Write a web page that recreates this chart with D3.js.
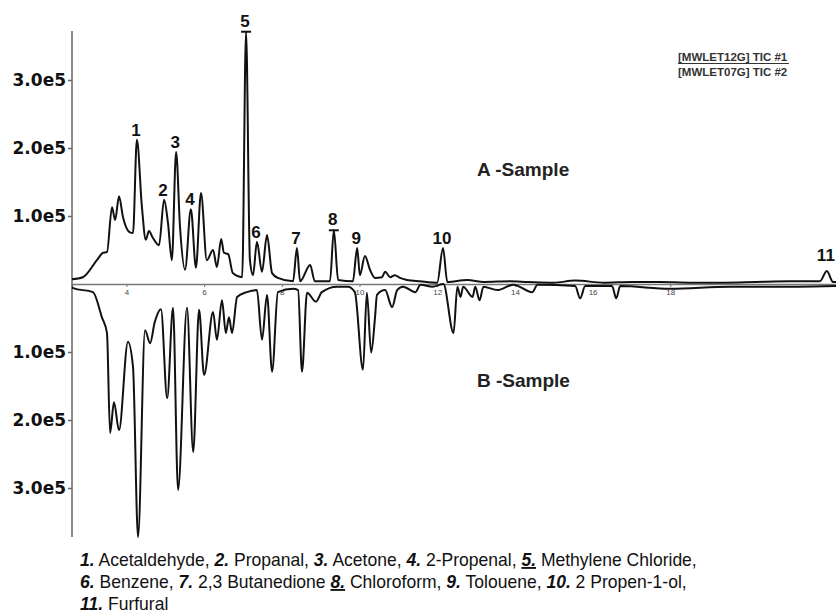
<!DOCTYPE html>
<html>
<head>
<meta charset="utf-8">
<script src="https://cdn.jsdelivr.net/npm/d3@7"></script>
<style>
  body { margin: 0; background: #fff; }
</style>
</head>
<body>
<div id="chart"></div>
<script>
// retention time (min) and abundance (x1e5) for the two TIC traces
var timeA = [2.60, 2.88, 3.24, 3.40, 3.50, 3.63, 3.71, 3.81, 3.91, 4.09, 4.17, 4.27, 4.40, 4.50, 4.58, 4.68, 4.84, 4.97, 5.07, 5.17,
  5.28, 5.38, 5.51, 5.66, 5.79, 5.92, 6.07, 6.23, 6.33, 6.44, 6.51, 6.62, 6.74, 6.98, 7.08, 7.18, 7.26, 7.36, 7.49, 7.62,
  7.75, 7.90, 8.29, 8.39, 8.47, 8.73, 8.85, 9.24, 9.34, 9.45, 9.83, 9.94, 10.01, 10.14, 10.27, 10.40, 10.58, 10.66, 10.79, 10.91,
  11.04, 11.22, 11.56, 12.00, 12.15, 12.26, 12.77, 13.20, 13.87, 14.34, 15.00, 15.55, 16.30, 17.00, 17.74, 18.50, 19.41, 20.20, 21.08, 21.85,
  22.03, 22.19, 22.30];
var sampleA = [0.07, 0.10, 0.35, 0.46, 0.47, 1.13, 0.94, 1.29, 0.99, 0.76, 0.75, 2.12, 1.13, 0.65, 0.78, 0.68, 0.57, 1.24, 0.90, 0.35,
  1.94, 0.84, 0.21, 1.10, 0.24, 1.34, 0.35, 0.50, 0.25, 0.66, 0.46, 0.44, 0.16, 0.10, 3.71, 0.35, 0.13, 0.62, 0.18, 0.72,
  0.16, 0.09, 0.04, 0.53, 0.04, 0.28, 0.04, 0.04, 0.79, 0.06, 0.04, 0.53, 0.13, 0.41, 0.21, 0.09, 0.10, 0.18, 0.10, 0.13,
  0.09, 0.06, 0.04, 0.02, 0.53, 0.03, 0.06, 0.03, 0.04, 0.03, 0.02, 0.05, 0.02, 0.03, 0.03, 0.02, 0.02, 0.03, 0.04, 0.04,
  0.19, 0.03, 0.03];

var timeB = [2.60, 2.63, 3.14, 3.37, 3.50, 3.58, 3.68, 3.81, 4.04, 4.17, 4.30, 4.48, 4.61, 4.73, 4.89, 5.05, 5.20, 5.33, 5.56, 5.72,
  5.87, 6.00, 6.23, 6.33, 6.46, 6.56, 6.64, 6.72, 6.85, 7.10, 7.36, 7.49, 7.62, 7.75, 7.90, 8.29, 8.42, 8.52, 8.65, 8.88,
  9.03, 9.42, 9.70, 9.88, 10.09, 10.19, 10.30, 10.40, 10.45, 10.66, 10.84, 10.97, 11.12, 11.44, 11.57, 11.88, 12.16, 12.42, 12.52, 12.60,
  12.67, 12.91, 12.98, 13.09, 13.19, 13.55, 13.96, 14.45, 14.58, 15.55, 15.68, 15.81, 16.50, 16.61, 16.71, 18.00, 19.54, 21.26, 22.30];
var sampleB = [0.05, 0.06, 0.12, 0.49, 0.72, 2.19, 1.74, 2.15, 0.85, 1.22, 3.72, 0.68, 0.87, 0.56, 0.37, 1.68, 0.35, 3.03, 0.35, 2.47,
  0.38, 1.34, 0.41, 0.82, 0.24, 0.72, 0.49, 0.72, 0.19, 0.12, 0.09, 0.82, 0.16, 1.29, 0.12, 0.07, 0.09, 1.29, 0.13, 0.26,
  0.12, 0.04, 0.04, 0.12, 1.26, 0.13, 1.01, 0.49, 0.16, 0.09, 0.34, 0.09, 0.04, 0.12, 0.01, 0.04, 0.00, 0.72, 0.04, 0.19,
  0.04, 0.19, 0.04, 0.24, 0.04, 0.09, 0.01, 0.12, 0.01, 0.03, 0.21, 0.03, 0.03, 0.21, 0.03, 0.07, 0.04, 0.04, 0.03];

// numbered peaks on trace A
var peakNames = ["1", "2", "3", "4", "5", "6", "7", "8", "9", "10", "11"];
var peakTimes = [4.27, 4.97, 5.28, 5.66, 7.08, 7.36, 8.39, 9.34, 9.94, 12.15, 22.03];
var peakHeights = [2.12, 1.24, 1.94, 1.10, 3.71, 0.62, 0.53, 0.79, 0.53, 0.53, 0.19];
var cappedPeaks = ["5", "8"];

var yTicks = [1, 2, 3];
var xTicks = [4, 6, 8, 10, 12, 14, 16, 18];
var traceNames = ["[MWLET12G] TIC #1", "[MWLET07G] TIC #2"];
var panelNames = ["A -Sample", "B -Sample"];

var compoundNums = ["1.", "2.", "3.", "4.", "5.", "6.", "7.", "8.", "9.", "10.", "11."];
var compoundNames = ["Acetaldehyde,", "Propanal,", "Acetone,", "2-Propenal,", "Methylene Chloride,",
  "Benzene,", "2,3 Butanedione", "Chloroform,", "Tolouene,", "2 Propen-1-ol,", "Furfural"];
var compoundLines = [[0, 1, 2, 3, 4], [5, 6, 7, 8, 9], [10]];

//-------------------------
var w = 836, h = 616;
var baseY = 284;

var svg = d3.select("#chart").append("svg")
  .attr("width", w).attr("height", h)
  .style("font-family", "'Liberation Sans', Arial, sans-serif");

var x = d3.scaleLinear().domain([2.6, 22.3]).range([72, 72 + 19.7 * 38.85]);
var yA = d3.scaleLinear().domain([0, 3]).range([baseY, baseY - 204]);
var yB = d3.scaleLinear().domain([0, 3]).range([baseY, baseY + 204]);

// x axis (time) along the shared baseline
var xAxis = d3.axisBottom(x).tickValues(xTicks).tickSize(3).tickPadding(2)
  .tickFormat(d3.format("d"));
var gx = svg.append("g").attr("transform", "translate(0," + baseY + ")").call(xAxis);
gx.select(".domain").attr("stroke", "#777").attr("stroke-width", 1.5);
gx.selectAll(".tick line").attr("stroke", "#777");
gx.selectAll(".tick text").attr("font-size", 8).attr("fill", "#444")
  .attr("font-family", "'Liberation Sans', Arial, sans-serif");

// y axes, mirrored
function fmt(d) { return d.toFixed(1) + "e5"; }
[yA, yB].forEach(function (s) {
  var g = svg.append("g").attr("transform", "translate(72,0)")
    .call(d3.axisLeft(s).tickValues(yTicks).tickSize(4).tickPadding(2).tickFormat(fmt));
  g.select(".domain").remove();
  g.selectAll(".tick line").attr("stroke", "#666").attr("stroke-width", 1.5);
  g.selectAll(".tick text").attr("font-size", 17).attr("font-weight", "bold").attr("fill", "#111")
    .attr("font-family", "'DejaVu Sans', sans-serif");
});
svg.append("line")
  .attr("x1", 72).attr("x2", 72)
  .attr("y1", yA(3.72)).attr("y2", yB(3.72))
  .attr("stroke", "#666").attr("stroke-width", 1.5);

// traces
var line = d3.line().curve(d3.curveMonotoneX);
function trace(ts, vs, ys) {
  return line(ts.map(function (t, i) { return [x(t), ys(vs[i])]; }));
}
svg.append("path").attr("d", trace(timeB, sampleB, yB))
  .attr("fill", "none").attr("stroke", "#111").attr("stroke-width", 2);
svg.append("path").attr("d", trace(timeA, sampleA, yA))
  .attr("fill", "none").attr("stroke", "#111").attr("stroke-width", 2);

// peak numbers
peakNames.forEach(function (n, i) {
  var px = x(peakTimes[i]), py = yA(peakHeights[i]);
  var gap = 4;
  if (cappedPeaks.indexOf(n) >= 0) {
    svg.append("line").attr("x1", px - 5).attr("x2", px + 5).attr("y1", py).attr("y2", py)
      .attr("stroke", "#111").attr("stroke-width", 2);
    gap = 5;
  }
  if (n == "11") gap = 10;
  svg.append("text").attr("x", px - 1).attr("y", py - gap)
    .attr("text-anchor", "middle").attr("font-size", 17).attr("font-weight", "bold")
    .attr("fill", "#111").text(n);
});

// panel titles
svg.append("text").attr("x", 477).attr("y", 176).attr("font-size", 19).attr("font-weight", "bold")
  .attr("fill", "#222").text(panelNames[0]);
svg.append("text").attr("x", 477).attr("y", 387).attr("font-size", 19).attr("font-weight", "bold")
  .attr("fill", "#222").text(panelNames[1]);

// trace legend top right
traceNames.forEach(function (s, i) {
  svg.append("text").attr("x", 678).attr("y", 61 + i * 15)
    .attr("font-size", 11.5).attr("font-weight", "bold").attr("fill", "#333").text(s);
});
svg.append("line").attr("x1", 678).attr("x2", 789).attr("y1", 63.5).attr("y2", 63.5)
  .attr("stroke", "#333").attr("stroke-width", 1);

// compound list under the chart, squeezed like a narrow font
var notes = svg.append("g");
compoundLines.forEach(function (idx, li) {
  var t = notes.append("text").attr("x", 80).attr("y", 566 + li * 22)
    .attr("font-size", 18.6).attr("fill", "#111");
  idx.forEach(function (k, j) {
    var num = t.append("tspan").attr("font-weight", "bold").attr("font-style", "italic")
      .text(compoundNums[k]);
    if (k == 4 || k == 7) num.attr("text-decoration", "underline");
    t.append("tspan").text(" " + compoundNames[k] + (j < idx.length - 1 ? " " : ""));
  });
});
var first = notes.select("text").node().getComputedTextLength();
var sx = 617 / first;
notes.attr("transform", "translate(80,0) scale(" + sx + ",1) translate(-80,0)");
</script>
</body>
</html>
